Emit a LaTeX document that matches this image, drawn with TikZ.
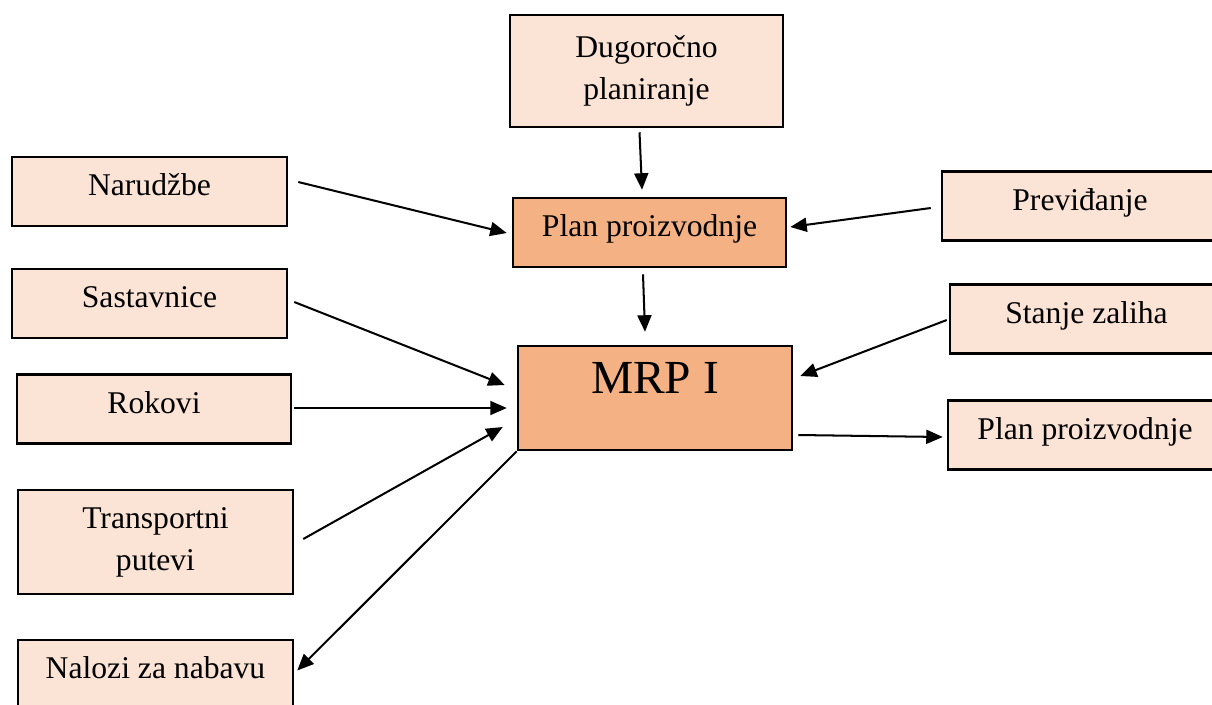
\documentclass[tikz,border=0pt]{standalone}
\usepackage{fontspec}
\setmainfont{Liberation Serif}
\usetikzlibrary{arrows.meta,calc}

\definecolor{lightpeach}{HTML}{FBE4D5}
\definecolor{peach}{HTML}{F4B183}

\begin{document}
\begin{tikzpicture}[x=0.02cm,y=-0.02cm,
  box/.style={rectangle, draw, line width=1.45pt, fill=lightpeach, inner sep=0pt,
    minimum width=5.5cm, minimum height=1.38cm, align=center,
    font=\fontsize{18}{24}\selectfont},
  onebox/.style={box, text height=0.75em, text depth=0.25em},
  mainbox/.style={onebox, fill=peach},
  arr/.style={-{Triangle[length=0.33cm,width=0.28cm]}, line width=1.15pt}]
\useasboundingbox (0,0) rectangle (1212,704);
\clip (0,0) rectangle (1212,704);
\node[box, minimum width=5.46cm, minimum height=2.24cm] (dug) at (646.5,71) {Dugoročno\\planiranje};
\node[mainbox, minimum width=5.46cm] (plan) at (649.5,232.5) {Plan proizvodnje};
\node[mainbox, minimum width=5.48cm, minimum height=2.08cm,
  font=\fontsize{27}{30}\selectfont] (mrp) at (655,398) {\raisebox{5pt}{MRP I}};
% ulazi lijevo
\node[onebox] (nar) at (149.5,191.5) {Narudžbe};
\node[onebox] (sas) at (149.5,303.5) {Sastavnice};
\node[onebox, minimum width=5.48cm] (rok) at (154,409) {Rokovi};
\node[box, minimum height=2.08cm] (tra) at (155.5,542) {Transportni\\putevi};
\node[onebox] (nal) at (155.5,674.5) {Nalozi za nabavu};
% desno
\node[onebox, minimum width=5.52cm] (prev) at (1080,206) {Previđanje};
\node[onebox, minimum width=5.46cm] (sta) at (1086.5,319) {Stanje zaliha};
\node[onebox, minimum width=5.48cm] (planb) at (1085,435) {Plan proizvodnje};
% strelice
\draw[arr] ($(dug.south)+(-7,4)$) -- ($(plan.north)+(-7.5,-7)$);
\draw[arr] ($(nar.east)+(10,-9.5)$) -- ($(plan.west)+(-5,0.5)$);
\draw[arr] ($(prev.west)+(-10,2)$) -- ($(plan.east)+(3,-5.5)$);
\draw[arr] ($(plan.south)+(-6.5,6)$) -- ($(mrp.north)+(-10,-13)$);
\draw[arr] ($(sas.east)+(6,-1.5)$) -- ($(mrp.west)+(-12,-13)$);
\draw[arr] ($(rok.east)+(2,-1)$) -- ($(mrp.west)+(-10,10)$);
\draw[arr] ($(tra.east)+(9,-3)$) -- ($(mrp.west)+(-14,29)$);
\draw[arr] (mrp.south west) -- ($(nal.east)+(3,-4)$);
\draw[arr] ($(sta.west)+(-2,1)$) -- ($(mrp.east)+(7,-22)$);
\draw[arr] ($(mrp.east)+(5,37)$) -- ($(planb.west)+(-4,2)$);
\end{tikzpicture}
\end{document}
